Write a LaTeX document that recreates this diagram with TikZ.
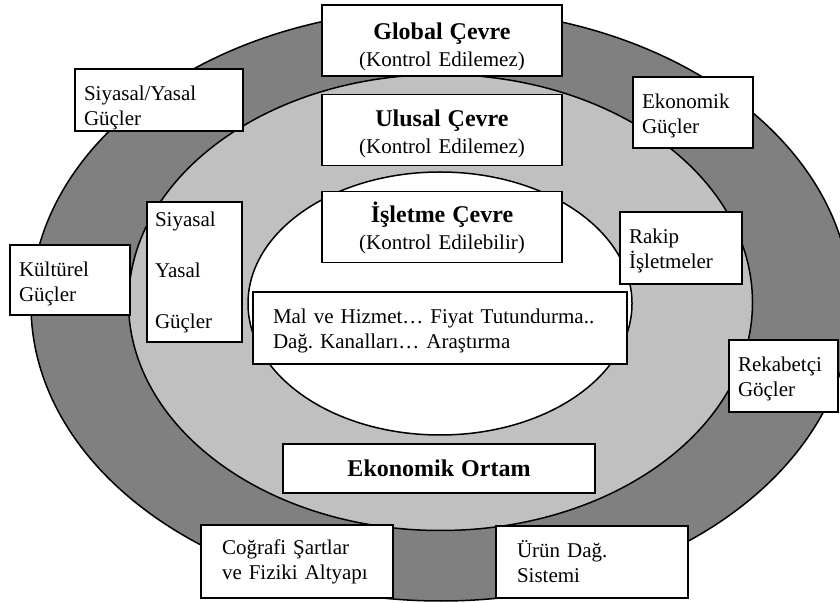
\documentclass[tikz,border=0pt]{standalone}
\usepackage{fontspec}
\setmainfont{Liberation Serif}
\usetikzlibrary{positioning}
\definecolor{outerband}{HTML}{808080}
\definecolor{midband}{HTML}{C0C0C0}
\newcommand{\firstline}[1]{\rule{0pt}{#1}}
\frenchspacing

\begin{document}
\begin{tikzpicture}[x=0.5pt, y=-0.5pt,
    ring/.style={draw=black, line width=0.75pt},
    head/.style={draw, line width=0.75pt, fill=white, text width=120pt, inner xsep=0pt,
      inner ysep=0pt, minimum height=35.5pt, align=center, font=\fontsize{10.5}{13.5}\selectfont},
    side/.style={draw, line width=0.75pt, fill=white, inner xsep=4.5pt, inner ysep=0pt,
      minimum height=36pt, align=left, font=\fontsize{10.5}{12.5}\selectfont},
    hb/.style={font=\fontsize{12}{13}\selectfont\bfseries}]
  \useasboundingbox (0,0) rectangle (840,603);

  % rings
  \fill[outerband] (441,305) ellipse [x radius=205pt, y radius=148pt];
  \draw[ring] (441,305) ellipse [x radius=205pt, y radius=148pt];
  \filldraw[ring, fill=midband] (440.5,302.5) ellipse [x radius=156pt, y radius=114pt];
  \filldraw[ring, fill=white] (440,303.5) ellipse [x radius=96pt, y radius=65.75pt];

  % headings
  \node[head] (global) at (442,40.5)
    {\firstline{14.5pt}{\fontsize{12}{13}\selectfont\bfseries Global Çevre}\\(Kontrol Edilemez)};
  \node[head] (ulusal) at (442,130)
    {\firstline{12.5pt}{\fontsize{12}{13}\selectfont\bfseries Ulusal Çevre}\\(Kontrol Edilemez)};
  \node[head] (isletme) at (442,227)
    {\firstline{11pt}{\fontsize{12}{13}\selectfont\bfseries İşletme Çevre}\\(Kontrol Edilebilir)};

  % outer forces
  \node[side, text width=75pt, minimum height=31pt] (siyasalyasal) at (159,100)
    {\firstline{15.3pt}Siyasal/Yasal\\Güçler};
  \node[side, text width=51pt, minimum height=35pt] (kulturel) at (70,280) {\firstline{11pt}Kültürel\\Güçler};
  \node[side, text width=51pt, minimum height=35.5pt] (ekonomik) at (693,112.5) {\firstline{10.5pt}Ekonomik\\Güçler};
  \node[side, text width=45.5pt] (rekabetci) at (783.5,376) {\firstline{10.5pt}Rekabetçi\\Göçler};
  \node[side, inner xsep=10.5pt, text width=75pt, minimum height=36.5pt] (cografi) at (297,561.5)
    {Coğrafi Şartlar\\ve Fiziki Altyapı};
  \node[side, inner xsep=10.5pt, text width=75pt] (urun) at (592,562) {\firstline{8.5pt}Ürün Dağ.\\Sistemi};

  % national
  \node[side, inner xsep=4pt, text width=39.5pt, minimum height=70pt,
    font=\fontsize{10.5}{25.5}\selectfont] (siyasal) at (194.5,272) {Siyasal\\Yasal\\Güçler};
  \node[side, text width=52pt] (rakip) at (681,248) {\firstline{10.5pt}Rakip\\İşletmeler};
  \node[side, inner xsep=0pt, text width=156pt, minimum height=24.5pt, align=center] (ortam) at (439,468.5)
    {{\fontsize{12}{13}\selectfont\bfseries Ekonomik Ortam}};

  % firm
  \node[side, inner xsep=10pt, text width=167pt] (mal) at (440,328)
    {\firstline{10.5pt}Mal ve Hizmet… Fiyat Tutundurma..\\Dağ. Kanalları… Araştırma};
\end{tikzpicture}
\end{document}
